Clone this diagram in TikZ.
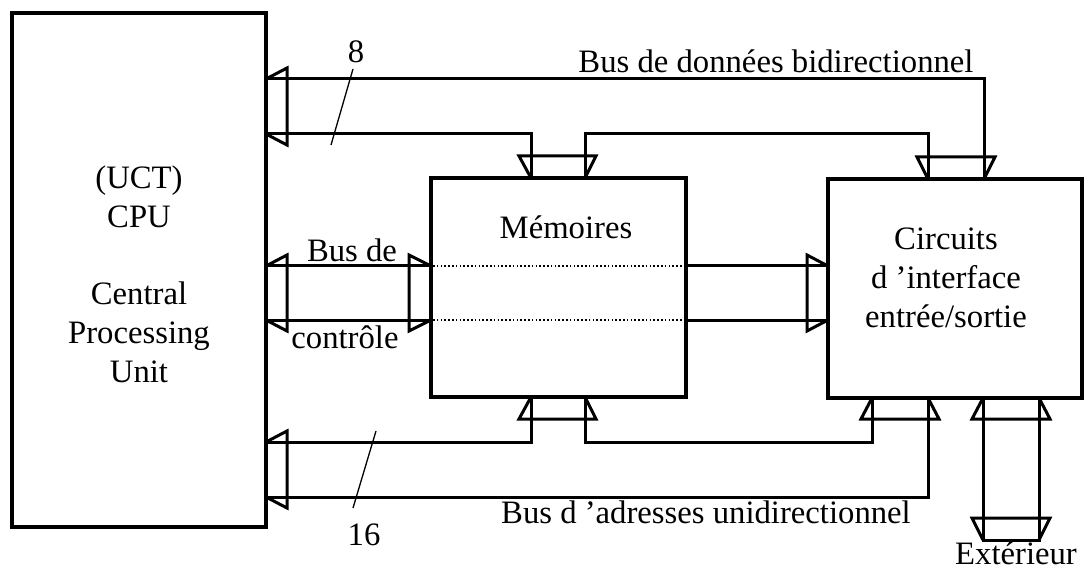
\documentclass[tikz,border=0pt]{standalone}
\usepackage{fontspec}
\setmainfont{Liberation Serif}
\begin{document}
\begin{tikzpicture}[x=1bp,y=-1bp,
  boxline/.style={draw=black,line width=3.8bp,fill=white},
  bus/.style={draw=black,line width=3bp,line join=miter,line cap=butt},
  busdot/.style={draw=black,line width=1.6bp,dash pattern=on 1.6bp off 2.2bp},
  tick/.style={draw=black,line width=1.3bp},
  lbl/.style={font=\fontsize{32.7bp}{38.5bp}\selectfont,inner sep=0pt,anchor=base}]
\useasboundingbox (0,0) rectangle (1088,570);
\fill[white] (0,0) rectangle (1088,570);

% boxes
\node[boxline,minimum width=254bp,minimum height=514bp,inner sep=0pt] (cpu) at (139,270) {};
\node[boxline,minimum width=255bp,minimum height=219bp,inner sep=0pt] (mem) at (558.5,287.5) {};
\node[boxline,minimum width=254bp,minimum height=219bp,inner sep=0pt] (io) at (955,288.5) {};

% named points
\coordinate (extA) at (983,540);
\coordinate (extB) at (1039,540);

% data bus
\draw[bus] (266,79) -- (984,79) -- (984,179);
\draw[bus] (266,134) -- (531,134) -- (531,178);
\draw[bus] (585,178) -- (585,134) -- (928,134) -- (928,179);
\draw[bus] (266,79) -- (287,68) -- (287,145) -- (266,134);
\draw[bus] (531,178) -- (519,156) -- (596,156) -- (585,178);
\draw[bus] (928,179) -- (917,157) -- (995,157) -- (984,179);

% control bus
\draw[bus] (266,266) -- (431,266);
\draw[bus] (266,320) -- (431,320);
\draw[bus] (266,266) -- (287,255) -- (287,331) -- (266,320);
\draw[bus] (431,266) -- (409,255) -- (409,331) -- (431,320);
\draw[busdot] (433,266) -- (684,266);
\draw[busdot] (433,320) -- (684,320);
\draw[bus] (686,266) -- (828,266);
\draw[bus] (686,320) -- (828,320);
\draw[bus] (828,266) -- (807,255) -- (807,331) -- (828,320);

% address bus
\draw[bus] (266,442) -- (531,442) -- (531,397);
\draw[bus] (585,397) -- (585,442) -- (872,442) -- (872,398);
\draw[bus] (266,497) -- (928,497) -- (928,398);
\draw[bus] (266,442) -- (287,431) -- (287,508) -- (266,497);
\draw[bus] (531,397) -- (519,419) -- (596,419) -- (585,397);
\draw[bus] (872,398) -- (861,419) -- (939,419) -- (928,398);

% exterior
\draw[bus] (983,398) -- (extA) -- (extB) -- (1039,398);
\draw[bus] (983,398) -- (972,419) -- (1050,419) -- (1039,398);
\draw[bus] (extA) -- (972,518) -- (1050,518) -- (extB);

% ticks
\draw[tick] (353,69) -- (331,145);
\draw[tick] (376,431) -- (353,508);

% labels
\node[lbl] (l8) at (356,63) {8};
\node[lbl] (l16) at (364,545) {16};
\node[lbl] (ldata) at (776,73) {Bus de données bidirectionnel};
\node[lbl] (lbus) at (352,262) {Bus de};
\node[lbl] (lctl) at (345,348) {contrôle};
\node[lbl] (lmem) at (566,239) {Mémoires};
\node[lbl] (lio1) at (946,250) {Circuits};
\node[lbl] (lio2) at (946,288.5) {d 'interface};
\node[lbl] (lio3) at (946,327) {entrée/sortie};
\node[lbl] (lc1) at (139,189) {(UCT)};
\node[lbl] (lc2) at (139,227.5) {CPU};
\node[lbl] (lc3) at (139,305) {Central};
\node[lbl] (lc4) at (139,343.5) {Processing};
\node[lbl] (lc5) at (139,382) {Unit};
\node[lbl] (laddr) at (706,523) {Bus d 'adresses unidirectionnel};
\node[lbl] (lext) at (1016,564) {Extérieur};
\end{tikzpicture}
\end{document}
